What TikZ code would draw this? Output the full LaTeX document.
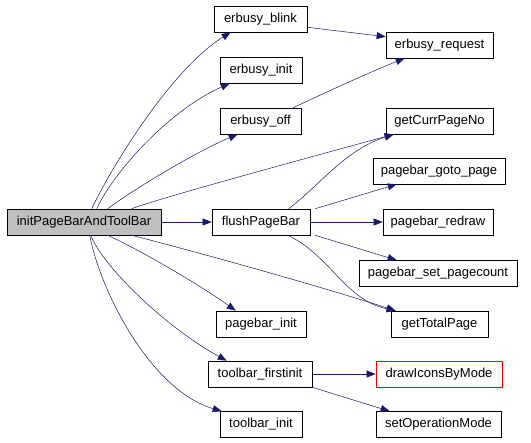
\documentclass[tikz,border=0pt]{standalone}
\usepackage{fontspec}
\setmainfont{Liberation Sans}
\usetikzlibrary{calc,arrows.meta}
\definecolor{edgeblue}{HTML}{191970}
\definecolor{rootgray}{HTML}{BFBFBF}

\begin{document}
\begin{tikzpicture}[x=1pt,y=-1pt,>={Stealth[length=9pt,width=7pt,inset=0pt]},
    fn/.style={draw,rectangle,minimum height=26pt,inner sep=0pt,line width=0.6pt,
        font=\fontsize{13}{15}\selectfont},
    call/.style={->,edgeblue,line width=0.5pt}]
        % --- 1. Canvas ---
        \fill[white] (0,0) rectangle (531,443);
        \useasboundingbox (0,0) rectangle (531,443);

        % --- 2. Function Boxes ---
        \node[fn,fill=rootgray,minimum width=154pt] (main) at (84,222) {initPageBarAndToolBar};

        \node[fn,minimum width=93pt]  (blink)  at (260.5,19)  {erbusy\_blink};
        \node[fn,minimum width=82pt]  (einit)  at (261,70)    {erbusy\_init};
        \node[fn,minimum width=81pt]  (eoff)   at (260.5,121) {erbusy\_off};
        \node[fn,minimum width=98pt]  (flush)  at (261,222)   {flushPageBar};
        \node[fn,minimum width=90pt]  (pbinit) at (261,324)   {pagebar\_init};
        \node[fn,minimum width=104pt] (tfi)    at (260,374)   {toolbar\_firstinit};
        \node[fn,minimum width=82pt]  (tinit)  at (261,424.5) {toolbar\_init};

        \node[fn,minimum width=107pt] (request)  at (439.5,45)  {erbusy\_request};
        \node[fn,minimum width=107pt] (getcurr)  at (439.5,121) {getCurrPageNo};
        \node[fn,minimum width=132pt] (gotopage) at (439,171)   {pagebar\_goto\_page};
        \node[fn,minimum width=110pt] (redraw)   at (438,222)   {pagebar\_redraw};
        \node[fn,minimum width=158pt] (setpc)    at (438,273.5) {pagebar\_set\_pagecount};
        \node[fn,minimum width=97pt]  (gettotal) at (439.5,324) {getTotalPage};
        \node[fn,minimum width=126pt,draw=red] (drawicons) at (439,374) {drawIconsByMode};
        \node[fn,minimum width=125pt] (setop)    at (438.5,424.5) {setOperationMode};

        % --- 3. Calls from initPageBarAndToolBar ---
        \draw[call] ($(main.north west)+(85,0)$) .. controls (110,170) and (170,70) .. ($(blink.south west)+(17,0)$);
        \draw[call] ($(main.north west)+(90,0)$) .. controls (115,170) and (170,110) .. ($(einit.south west)+(10,0)$);
        \draw[call] ($(main.north west)+(101,0)$) .. controls (140,185) and (200,150) .. ($(eoff.south west)+(18,0)$);
        \draw[call] ($(main.north west)+(125,0)$) .. controls (160,198) and (300,160) .. ($(getcurr.south west)+(8,0)$);
        \draw[call] (main) -- (flush);
        \draw[call] ($(main.south west)+(125,0)$) .. controls (170,245) and (300,280) .. ($(gettotal.north west)+(5,0)$);
        \draw[call] ($(main.south west)+(101,0)$) .. controls (140,250) and (200,285) .. ($(pbinit.north west)+(20,0)$);
        \draw[call] ($(main.south west)+(84,0)$) .. controls (105,270) and (170,330) .. ($(tfi.north west)+(19,0)$);
        \draw[call] ($(main.south west)+(83,0)$) .. controls (100,290) and (150,390) .. ($(tinit.north west)+(2,0)$);

        % --- 4. Calls from the second column ---
        \draw[call] ($(blink.south east)+(0,-5)$) -- ($(request.north west)+(0,5)$);
        \draw[call] ($(eoff.north east)+(-8,0)$) .. controls (320,95) and (370,72) .. ($(request.south west)+(19,0)$);
        \draw[call] ($(flush.north west)+(77,0)$) .. controls (320,185) and (345,150) .. ($(getcurr.south west)+(8,0)$);
        \draw[call] ($(flush.north east)+(5,0)$) -- ($(gotopage.south west)+(24,0)$);
        \draw[call] (flush) -- (redraw);
        \draw[call] ($(flush.south east)+(5,0)$) -- ($(setpc.north west)+(38,0)$);
        \draw[call] ($(flush.south west)+(76,0)$) .. controls (330,255) and (345,300) .. ($(gettotal.north west)+(5,0)$);
        \draw[call] (tfi) -- (drawicons);
        \draw[call] (tfi.south east) -- ($(setop.north west)+(14,0)$);
\end{tikzpicture}
\end{document}
